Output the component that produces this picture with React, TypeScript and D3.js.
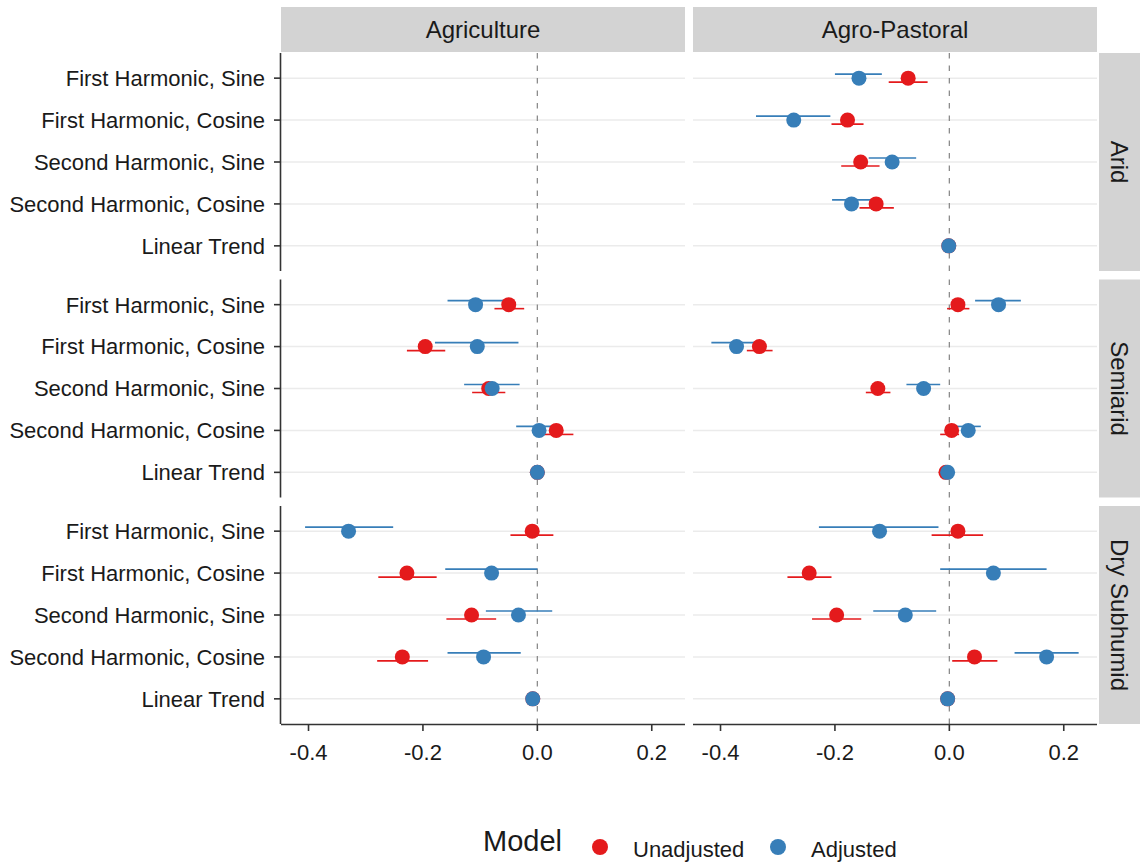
import React from "react";
import * as d3 from "d3";

const width = 1140;
const height = 865;

const terms = [
  "First Harmonic, Sine",
  "First Harmonic, Cosine",
  "Second Harmonic, Sine",
  "Second Harmonic, Cosine",
  "Linear Trend",
];
const systems = ["Agriculture", "Agro-Pastoral"];
const zones = ["Arid", "Semiarid", "Dry Subhumid"];
const models = ["Unadjusted", "Adjusted"];
const modelColors = ["#E41A1C", "#377EB8"];
const xTicks = [-0.4, -0.2, 0.0, 0.2];

// [estimate, lower, upper] per term
const aridAgricultureUnadjusted: number[][] = [];
const aridAgricultureAdjusted: number[][] = [];

const aridPastoralUnadjusted = [
  [-0.072, -0.106, -0.038],
  [-0.178, -0.206, -0.15],
  [-0.155, -0.189, -0.122],
  [-0.128, -0.157, -0.097],
  [-0.001, -0.003, 0.001],
];
const aridPastoralAdjusted = [
  [-0.158, -0.2, -0.118],
  [-0.272, -0.338, -0.208],
  [-0.1, -0.141, -0.058],
  [-0.171, -0.205, -0.135],
  [-0.001, -0.003, 0.001],
];

const semiaridAgricultureUnadjusted = [
  [-0.05, -0.075, -0.023],
  [-0.196, -0.228, -0.161],
  [-0.085, -0.114, -0.056],
  [0.033, 0.009, 0.063],
  [0.0, -0.002, 0.002],
];
const semiaridAgricultureAdjusted = [
  [-0.108, -0.157, -0.049],
  [-0.105, -0.179, -0.033],
  [-0.079, -0.128, -0.031],
  [0.003, -0.037, 0.033],
  [0.0, -0.002, 0.002],
];

const semiaridPastoralUnadjusted = [
  [0.015, -0.004, 0.035],
  [-0.332, -0.354, -0.309],
  [-0.125, -0.146, -0.103],
  [0.004, -0.016, 0.017],
  [-0.006, -0.008, -0.004],
];
const semiaridPastoralAdjusted = [
  [0.086, 0.045, 0.125],
  [-0.372, -0.416, -0.332],
  [-0.045, -0.075, -0.016],
  [0.033, 0.012, 0.055],
  [-0.003, -0.005, -0.001],
];

const subhumidAgricultureUnadjusted = [
  [-0.009, -0.047, 0.028],
  [-0.228, -0.278, -0.176],
  [-0.115, -0.159, -0.072],
  [-0.236, -0.28, -0.191],
  [-0.008, -0.01, -0.006],
];
const subhumidAgricultureAdjusted = [
  [-0.33, -0.406, -0.252],
  [-0.08, -0.161, 0.0],
  [-0.033, -0.09, 0.026],
  [-0.094, -0.157, -0.029],
  [-0.008, -0.01, -0.006],
];

const subhumidPastoralUnadjusted = [
  [0.015, -0.031, 0.059],
  [-0.245, -0.283, -0.206],
  [-0.197, -0.24, -0.154],
  [0.044, 0.005, 0.084],
  [-0.003, -0.005, -0.001],
];
const subhumidPastoralAdjusted = [
  [-0.122, -0.228, -0.019],
  [0.077, -0.016, 0.17],
  [-0.077, -0.133, -0.023],
  [0.17, 0.114, 0.226],
  [-0.003, -0.005, -0.001],
];

// panels[zone][system][model]
const panels = [
  [
    [aridAgricultureUnadjusted, aridAgricultureAdjusted],
    [aridPastoralUnadjusted, aridPastoralAdjusted],
  ],
  [
    [semiaridAgricultureUnadjusted, semiaridAgricultureAdjusted],
    [semiaridPastoralUnadjusted, semiaridPastoralAdjusted],
  ],
  [
    [subhumidAgricultureUnadjusted, subhumidAgricultureAdjusted],
    [subhumidPastoralUnadjusted, subhumidPastoralAdjusted],
  ],
];

const font = "'Liberation Sans', Arial, sans-serif";
const textColor = "#1a1a1a";

const panelLeft = 281;
const panelW = 404;
const colGap = 8;
const panelTop = 53;
const panelH = 218;
const rowGap = 8.5;
const stripTop = 7;
const stripRight = 1099;

const fmt = (v: number) => d3.format(".1f")(v).replace("\u2212", "-");

const App = () => {
  const all = panels.flat(3);
  const lo = d3.min(all, (d) => d[1]) as number;
  const hi = d3.max(all, (d) => d[2]) as number;
  const pad = (hi - lo) * 0.05;

  const x = d3.scaleLinear().domain([lo - pad, hi + pad]).range([0, panelW]);
  const y = d3.scalePoint().domain(terms).range([0, panelH]).padding(0.6);
  const dodge = d3.scalePoint().domain(models).range([4, -4]);

  const colX = (j: number) => panelLeft + j * (panelW + colGap);
  const rowY = (i: number) => panelTop + i * (panelH + rowGap);

  return (
    <div style={{ position: "absolute", left: 0, top: 0 }}>
      <svg width={width} height={height} style={{ display: "block", fontFamily: font }}>
        <rect width={width} height={height} fill="white" />

        {/* top strips */}
        {systems.map((s, j) => (
          <g key={s} transform={`translate(${colX(j)},${stripTop})`}>
            <rect width={panelW} height={panelTop - stripTop - 1} fill="#d3d3d3" />
            <text
              x={panelW / 2}
              y={(panelTop - stripTop - 1) / 2}
              dy="0.36em"
              textAnchor="middle"
              fontSize={24}
              fill={textColor}
            >
              {s}
            </text>
          </g>
        ))}

        {/* right strips */}
        {zones.map((z, i) => (
          <g key={z} transform={`translate(${stripRight},${rowY(i)})`}>
            <rect width={width - stripRight} height={panelH} fill="#d3d3d3" />
            <text
              transform={`translate(${(width - stripRight) / 2},${panelH / 2}) rotate(90)`}
              dy="0.36em"
              textAnchor="middle"
              fontSize={24}
              fill={textColor}
            >
              {z}
            </text>
          </g>
        ))}

        {zones.map((z, i) =>
          systems.map((s, j) => {
            const data = panels[i][j];
            return (
              <g key={z + s} transform={`translate(${colX(j)},${rowY(i)})`}>
                {terms.map((t) => (
                  <line
                    key={t}
                    x1={0}
                    x2={panelW}
                    y1={y(t)}
                    y2={y(t)}
                    stroke="#ebebeb"
                    strokeWidth={1.5}
                  />
                ))}
                <line
                  x1={x(0)}
                  x2={x(0)}
                  y1={0}
                  y2={panelH}
                  stroke="#8c8c8c"
                  strokeWidth={1.3}
                  strokeDasharray="5.5,7"
                />
                {/* intervals */}
                {data.map((rows, m) =>
                  rows.map((r, k) => (
                    <line
                      key={`l${m}${k}`}
                      x1={x(r[1])}
                      x2={x(r[2])}
                      y1={(y(terms[k]) as number) + (dodge(models[m]) as number)}
                      y2={(y(terms[k]) as number) + (dodge(models[m]) as number)}
                      stroke={modelColors[m]}
                      strokeWidth={1.6}
                    />
                  ))
                )}
                {/* estimates */}
                {data.map((rows, m) =>
                  rows.map((r, k) => (
                    <circle
                      key={`p${m}${k}`}
                      cx={x(r[0])}
                      cy={y(terms[k])}
                      r={7.5}
                      fill={modelColors[m]}
                    />
                  ))
                )}
                {/* y axis only on first column */}
                {j === 0 && (
                  <g>
                    <line x1={-0.5} x2={-0.5} y1={0} y2={panelH} stroke="#333" strokeWidth={1.6} />
                    {terms.map((t) => (
                      <g key={t} transform={`translate(0,${y(t)})`}>
                        <line x1={-7} x2={0} stroke="#333" strokeWidth={1.6} />
                        <text
                          x={-16}
                          dy="0.36em"
                          textAnchor="end"
                          fontSize={22}
                          fill={textColor}
                        >
                          {t}
                        </text>
                      </g>
                    ))}
                  </g>
                )}
                {/* x axis on bottom row */}
                {i === zones.length - 1 && (
                  <g transform={`translate(0,${panelH})`}>
                    <line x1={0} x2={panelW} y1={0.5} y2={0.5} stroke="#333" strokeWidth={1.6} />
                    {xTicks.map((v) => (
                      <g key={v} transform={`translate(${x(v)},0)`}>
                        <line y1={0} y2={7} stroke="#333" strokeWidth={1.6} />
                        <text y={36} textAnchor="middle" fontSize={22} fill={textColor}>
                          {fmt(v)}
                        </text>
                      </g>
                    ))}
                  </g>
                )}
              </g>
            );
          })
        )}

        {/* legend */}
        <g>
          <text x={483} y={851} fontSize={29} fill={textColor}>
            Model
          </text>
          {models.map((m, k) => (
            <g key={m} transform={`translate(${600 + k * 178},847)`}>
              <circle r={8} fill={modelColors[k]} />
              <text x={33} dy="0.45em" fontSize={22} fill={textColor}>
                {m}
              </text>
            </g>
          ))}
        </g>
      </svg>
    </div>
  );
};

export default App;
